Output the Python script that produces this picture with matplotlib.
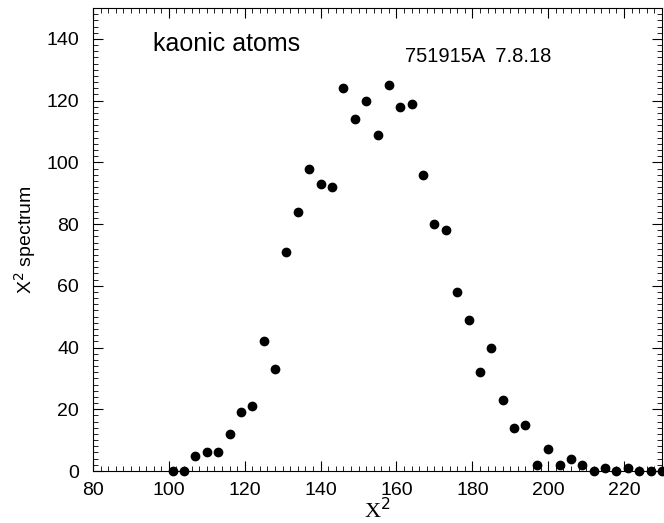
import matplotlib.pyplot as plt
from matplotlib.ticker import MultipleLocator

x = [101, 104, 107, 110, 113, 116, 119, 122, 125, 128, 131, 134, 137, 140, 143,
     146, 149, 152, 155, 158, 161, 164, 167, 170, 173, 176, 179, 182, 185, 188,
     191, 194, 197, 200, 203, 206, 209, 212, 215, 218, 221, 224, 227, 230]
y = [0, 0, 5, 6, 6, 12, 19, 21, 42, 33, 71, 84, 98, 93, 92,
     124, 114, 120, 109, 125, 118, 119, 96, 80, 78, 58, 49, 32, 40, 23,
     14, 15, 2, 7, 2, 4, 2, 0, 1, 0, 1, 0, 0, 0]

plt.rcParams['font.family'] = ['Liberation Sans', 'DejaVu Sans']

fig = plt.figure(figsize=(6.64, 5.23), dpi=100)
ax = fig.add_axes([93/664, 52/523, 569/664, 463/523])
ax.scatter(x, y, s=36, color='black', zorder=3, clip_on=False)
ax.set_xlim(80, 230)
ax.set_ylim(0, 150)
ax.xaxis.set_major_locator(MultipleLocator(20))
ax.xaxis.set_minor_locator(MultipleLocator(2))
ax.yaxis.set_minor_locator(MultipleLocator(2))
ax.set_yticks([0, 20, 40, 60, 80, 100, 120, 140])
ax.tick_params(which='both', direction='in', top=True, right=True, labelsize=14)
ax.tick_params(which='major', length=7.5)
ax.tick_params(which='minor', length=3.5)
ax.tick_params(axis='x', pad=8)
ax.tick_params(axis='y', pad=10)

# axis titles placed by hand to sit where the original has them
ax.text(0.5, -0.086, 'X$^2$', transform=ax.transAxes, family='Liberation Serif',
        fontsize=16, ha='center', va='center')
ax.text(-0.12, 0.5, 'X$^2$ spectrum', transform=ax.transAxes, fontsize=14,
        rotation=90, ha='center', va='center')

ax.text(0.105, 0.922, 'kaonic atoms', transform=ax.transAxes, fontsize=18,
        va='center')
ax.text(0.548, 0.896, '751915A  7.8.18', transform=ax.transAxes, fontsize=14.5,
        va='center')

fig.savefig('out.png', dpi=100)
